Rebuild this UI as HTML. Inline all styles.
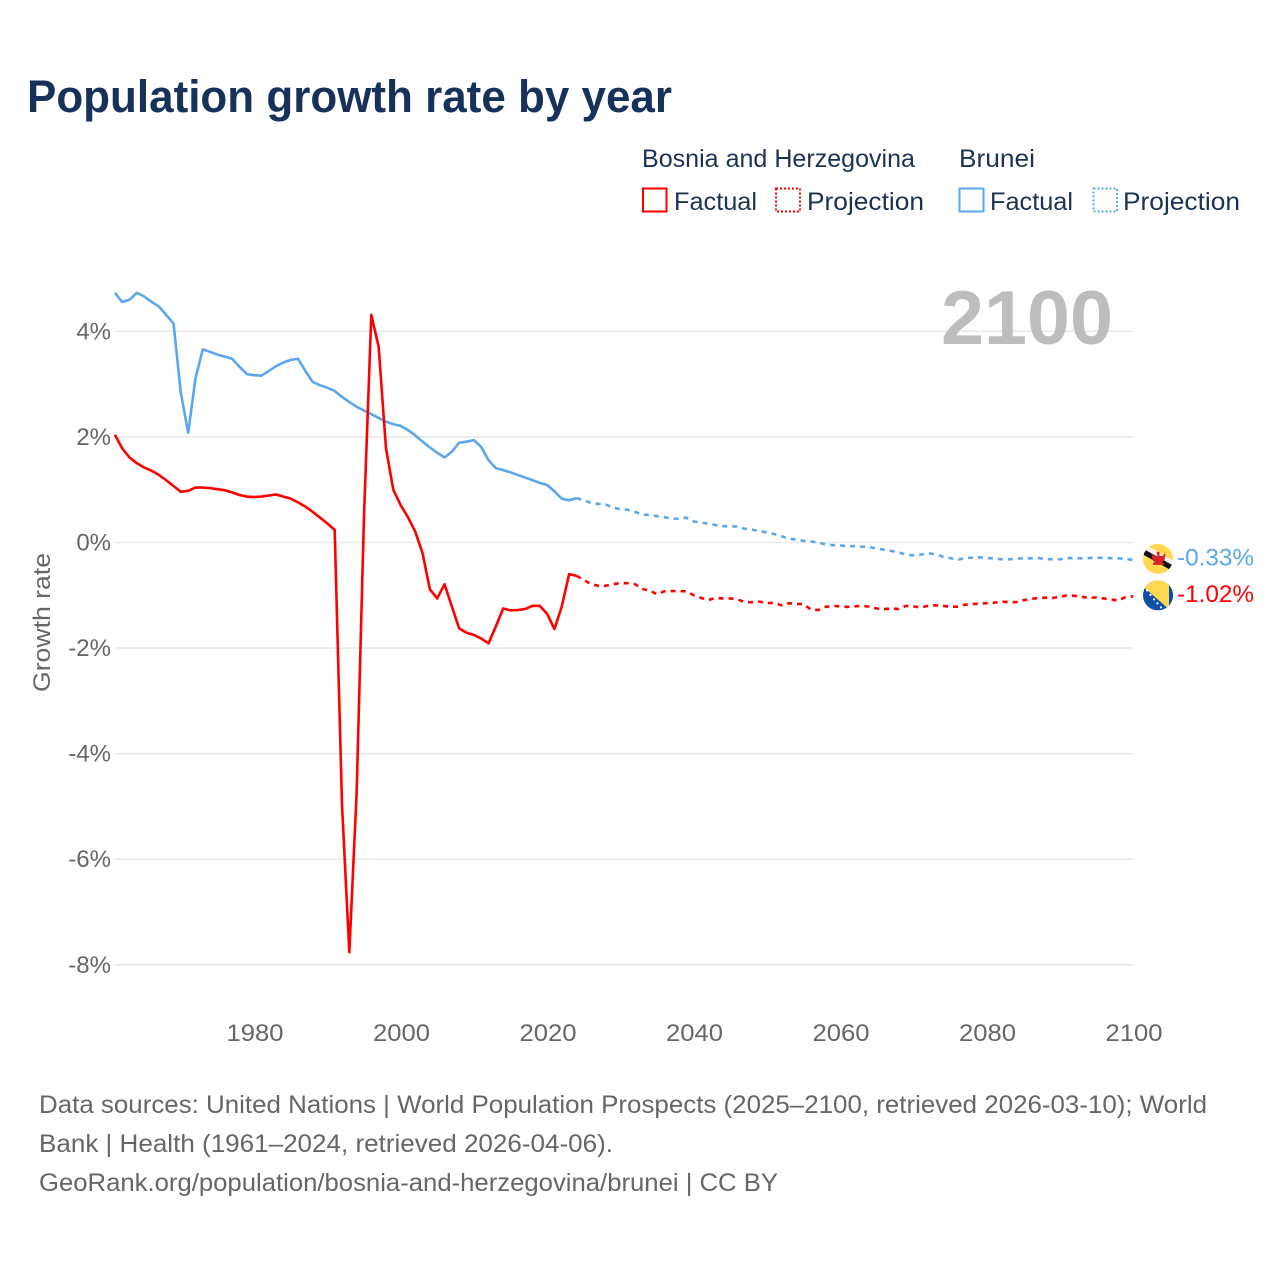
<!DOCTYPE html>
<html lang="en">
<head>
<meta charset="utf-8">
<title>Population growth rate by year</title>
<style>
html,body{margin:0;padding:0;background:#fff;width:1280px;height:1280px;overflow:hidden}
svg{display:block}
text{font-family:"Liberation Sans",sans-serif}
</style>
</head>
<body>
<svg id="chart" width="1280" height="1280" viewBox="0 0 1280 1280" xmlns="http://www.w3.org/2000/svg">
  <rect width="1280" height="1280" fill="#fff"/>
  <text x="27" y="112" font-size="45" font-weight="700" fill="#16325a" textLength="645" lengthAdjust="spacingAndGlyphs">Population growth rate by year</text>

  <g font-size="25" fill="#1a3353">
    <text x="642" y="167" textLength="273" lengthAdjust="spacingAndGlyphs">Bosnia and Herzegovina</text>
    <text x="959" y="167" textLength="76" lengthAdjust="spacingAndGlyphs">Brunei</text>
    <rect x="643" y="188.5" width="23.5" height="23" fill="none" stroke="#ff0000" stroke-width="2"/>
    <text x="674" y="210" textLength="83" lengthAdjust="spacingAndGlyphs">Factual</text>
    <rect x="776" y="188.5" width="24" height="23" fill="none" stroke="#ff0000" stroke-width="2" stroke-dasharray="2 2"/>
    <text x="807" y="210" textLength="117" lengthAdjust="spacingAndGlyphs">Projection</text>
    <rect x="959.5" y="188.5" width="24" height="23" fill="none" stroke="#5ba7ee" stroke-width="2"/>
    <text x="990" y="210" textLength="83" lengthAdjust="spacingAndGlyphs">Factual</text>
    <rect x="1093.5" y="188.5" width="23.5" height="23" fill="none" stroke="#5ba7ee" stroke-width="2" stroke-dasharray="2 2"/>
    <text x="1123" y="210" textLength="117" lengthAdjust="spacingAndGlyphs">Projection</text>
  </g>

  <g id="grid"></g>
  <text x="941" y="344" font-size="76" font-weight="700" fill="#bdbdbd" textLength="172" lengthAdjust="spacingAndGlyphs">2100</text>
  <g id="y-axis"></g>
  <g id="x-axis"></g>
  <text transform="translate(50,692) rotate(-90)" font-size="24" fill="#666" textLength="139" lengthAdjust="spacingAndGlyphs">Growth rate</text>
  <g id="series"></g>

  <defs>
    <clipPath id="flag-clip-brunei"><circle cx="0" cy="0" r="15"/></clipPath>
    <clipPath id="flag-clip-bosnia"><circle cx="0" cy="0" r="15"/></clipPath>
  </defs>
  <g id="flag-brunei">
    <g clip-path="url(#flag-clip-brunei)">
      <rect x="-15" y="-15" width="30" height="30" fill="#ffd84f"/>
      <polygon points="-16,-11 16,7 16,13 -16,-5" fill="#111"/>
      <polygon points="-16,-16 16,2 16,7 -16,-11" fill="#f2f2f2"/>
      <path d="M-1.5,-7 h3 v4 h3.5 l1,-2 l1.5,0 l-1,6 l-2.5,3 h2 v2 h-11 v-2 h2 l-2.5,-3 l-1,-6 l1.5,0 l1,2 h3.5 z" fill="#d8232a"/>
    </g>
  </g>
  <g id="flag-bosnia">
    <g clip-path="url(#flag-clip-bosnia)">
      <rect x="-15" y="-15" width="30" height="30" fill="#0d4fa8"/>
      <polygon points="-14,-8 -9,-16 11,-16 11,14" fill="#ffd84f"/>
      <rect x="11" y="-15" width="4" height="30" fill="#0d4fa8"/>
      <g fill="#fff">
        <circle cx="-11" cy="-5" r="1.1"/><circle cx="-7.5" cy="-0.5" r="1.1"/><circle cx="-4" cy="4" r="1.1"/>
        <circle cx="-0.5" cy="8" r="1.1"/><circle cx="3" cy="12" r="1.1"/>
      </g>
    </g>
  </g>
  <text id="value-brunei" x="1177" font-size="24" fill="#5ba7ee" textLength="77" lengthAdjust="spacingAndGlyphs"></text>
  <text id="value-bosnia" x="1177" font-size="24" fill="#ff0000" textLength="77" lengthAdjust="spacingAndGlyphs"></text>

  <g font-size="25" fill="#666">
    <text x="39" y="1113" textLength="1168" lengthAdjust="spacingAndGlyphs">Data sources: United Nations | World Population Prospects (2025–2100, retrieved 2026-03-10); World</text>
    <text x="39" y="1152" textLength="574" lengthAdjust="spacingAndGlyphs">Bank | Health (1961–2024, retrieved 2026-04-06).</text>
    <text x="39" y="1191" textLength="739" lengthAdjust="spacingAndGlyphs">GeoRank.org/population/bosnia-and-herzegovina/brunei | CC BY</text>
  </g>
</svg>
<script>
const factualStartYear = 1961;
const projectionStartYear = 2024;
const yTickValues = [4, 2, 0, -2, -4, -6, -8];
const xTickYears = [1980, 2000, 2020, 2040, 2060, 2080, 2100];

const bosniaFactual = [
  2.04, 1.78, 1.61, 1.50, 1.42, 1.36, 1.28, 1.18, 1.07, 0.96,
  0.98, 1.04, 1.04, 1.03, 1.01, 0.99, 0.95, 0.90, 0.87, 0.86,
  0.87, 0.89, 0.91, 0.87, 0.83, 0.76, 0.68, 0.58, 0.47, 0.36,
  0.24, -4.97, -7.76, -4.73, 0.50, 4.31, 3.71, 1.79, 1.00, 0.71,
  0.48, 0.205, -0.205, -0.89, -1.06, -0.79, -1.215, -1.63, -1.71, -1.75,
  -1.82, -1.91, -1.59, -1.25, -1.285, -1.28, -1.26, -1.20, -1.20, -1.35,
  -1.64, -1.215, -0.60, -0.63
];
const bosniaProjection = [
  -0.63, -0.71, -0.79, -0.82, -0.82, -0.79, -0.77, -0.77, -0.79, -0.88,
  -0.91, -0.98, -0.925, -0.92, -0.92, -0.925, -1.00, -1.05, -1.09, -1.05,
  -1.06, -1.06, -1.08, -1.13, -1.13, -1.12, -1.15, -1.14, -1.19, -1.15,
  -1.165, -1.165, -1.27, -1.28, -1.22, -1.20, -1.21, -1.22, -1.21, -1.20,
  -1.215, -1.25, -1.26, -1.25, -1.26, -1.20, -1.21, -1.23, -1.20, -1.19,
  -1.20, -1.215, -1.215, -1.18, -1.165, -1.16, -1.15, -1.14, -1.12, -1.13,
  -1.13, -1.095, -1.07, -1.05, -1.045, -1.05, -1.03, -1.00, -1.01, -1.03,
  -1.05, -1.04, -1.06, -1.08, -1.10, -1.03, -1.02
];
const bruneiFactual = [
  4.73, 4.555, 4.60, 4.73, 4.66, 4.56, 4.47, 4.31, 4.15, 2.83,
  2.08, 3.11, 3.66, 3.61, 3.56, 3.52, 3.48, 3.33, 3.19, 3.17,
  3.16, 3.25, 3.34, 3.41, 3.46, 3.48, 3.25, 3.04, 2.98, 2.93,
  2.87, 2.76, 2.66, 2.57, 2.50, 2.43, 2.36, 2.29, 2.24, 2.21,
  2.13, 2.03, 1.91, 1.80, 1.70, 1.61, 1.72, 1.89, 1.91, 1.94,
  1.81, 1.56, 1.41, 1.37, 1.33, 1.28, 1.23, 1.18, 1.13, 1.09,
  0.97, 0.83, 0.80, 0.84
];
const bruneiProjection = [
  0.84, 0.80, 0.75, 0.73, 0.72, 0.66, 0.63, 0.62, 0.58, 0.53,
  0.52, 0.50, 0.48, 0.45, 0.45, 0.47, 0.40, 0.375, 0.36, 0.33,
  0.31, 0.31, 0.30, 0.26, 0.24, 0.22, 0.19, 0.16, 0.12, 0.07,
  0.06, 0.03, 0.02, 0.00, -0.035, -0.05, -0.055, -0.07, -0.07, -0.08,
  -0.085, -0.117, -0.136, -0.161, -0.186, -0.23, -0.243, -0.23, -0.205, -0.224,
  -0.268, -0.294, -0.331, -0.294, -0.287, -0.281, -0.294, -0.30, -0.319, -0.319,
  -0.306, -0.30, -0.30, -0.294, -0.313, -0.319, -0.319, -0.294, -0.294, -0.30,
  -0.294, -0.287, -0.294, -0.294, -0.30, -0.313, -0.33
];

const SVG_NS = 'http://www.w3.org/2000/svg';
function xScale(year) { return 254.1 + (year - 1980) * 7.325; }
function yScale(value) { return 542.5 - value * 52.79; }
function linePoints(values, startYear) {
  return values.map(function (v, i) {
    return xScale(startYear + i).toFixed(2) + ',' + yScale(v).toFixed(2);
  }).join(' ');
}
function make(tag, parentId) {
  const el = document.createElementNS(SVG_NS, tag);
  document.getElementById(parentId).appendChild(el);
  return el;
}

yTickValues.forEach(function (v) {
  const line = make('line', 'grid');
  
  
  line.setAttribute('x1', 115);
  line.setAttribute('x2', 1133);
  line.setAttribute('y1', yScale(v));
  line.setAttribute('y2', yScale(v));
  line.setAttribute('stroke', '#e9e9e9');
  line.setAttribute('stroke-width', 1.6);

  const label = make('text', 'y-axis');
  
  
  label.setAttribute('x', 111);
  label.setAttribute('y', yScale(v) + 8);
  label.setAttribute('text-anchor', 'end');
  label.setAttribute('font-size', 24);
  label.setAttribute('fill', '#666');
  label.textContent = v + '%';
});

xTickYears.forEach(function (year) {
  const label = make('text', 'x-axis');
  
  
  label.setAttribute('x', xScale(year) - 27.6);
  label.setAttribute('y', 1041);
  label.setAttribute('font-size', 24);
  label.setAttribute('fill', '#666');
  label.setAttribute('textLength', 57);
  label.setAttribute('lengthAdjust', 'spacingAndGlyphs');
  label.textContent = String(year);
});

function drawLine(values, startYear, color, dashed, name) {
  const line = make('polyline', 'series');
  
  
  line.setAttribute('points', linePoints(values, startYear));
  line.setAttribute('fill', 'none');
  line.setAttribute('stroke', color);
  line.setAttribute('stroke-width', 2.6);
  line.setAttribute('stroke-linejoin', 'round');
  if (dashed) { line.setAttribute('stroke-dasharray', '5 5'); }
}
drawLine(bruneiFactual, factualStartYear, '#5ba7ee', false, 'brunei-factual-line');
drawLine(bruneiProjection, projectionStartYear, '#5ba7ee', true, 'brunei-projection-line');
drawLine(bosniaFactual, factualStartYear, '#ff0000', false, 'bosnia-factual-line');
drawLine(bosniaProjection, projectionStartYear, '#ff0000', true, 'bosnia-projection-line');

function placeEnd(values, flagId, labelId) {
  const last = values[values.length - 1];
  const y = yScale(last);
  document.getElementById(flagId).setAttribute('transform', 'translate(1158,' + (y - 1) + ')');
  const label = document.getElementById(labelId);
  label.setAttribute('y', y + 5.5);
  label.textContent = last.toFixed(2) + '%';
}
placeEnd(bruneiProjection, 'flag-brunei', 'value-brunei');
placeEnd(bosniaProjection, 'flag-bosnia', 'value-bosnia');
</script>
</body>
</html>
